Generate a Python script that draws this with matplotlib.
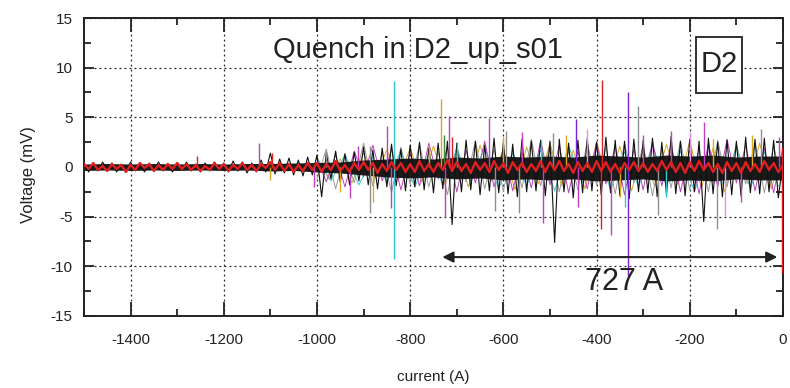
import numpy as np
import matplotlib
matplotlib.use("Agg")
import matplotlib.pyplot as plt
from matplotlib.ticker import MultipleLocator
from matplotlib.patches import Rectangle

plt.rcParams['font.family'] = ['Liberation Sans', 'DejaVu Sans']
plt.rcParams['axes.unicode_minus'] = False

# dense black core of all traces, edges every 50 A from -1500 to 0
core_start, core_step = -1500, 50
core_hi = [0.3, 0.35, 0.3, 0.35, 0.3, 0.35, 0.3, 0.35, 0.35, 0.4,
           0.45, 0.5, 0.7, 0.8, 0.9, 0.8, 1.0, 0.9, 1.1, 1.0,
           1.1, 1.0, 1.2, 1.1, 1.0, 1.2, 1.1, 1.2, 1.0, 1.1, 1.1]
core_lo = [-0.35, -0.3, -0.35, -0.3, -0.35, -0.3, -0.35, -0.3, -0.4, -0.35,
           -0.5, -0.6, -0.8, -1.0, -1.1, -1.0, -1.2, -1.1, -1.3, -1.2,
           -1.3, -1.2, -1.4, -1.3, -1.2, -1.4, -1.3, -1.4, -1.2, -1.3, -1.3]

# black trace, one value every 10 A from -1500 to 0
black_start, black_step = -1500, 10
black_v = [
    0.4, -0.5, 0.3, -0.4, 0.5, -0.3, 0.4, -0.5, 0.3, -0.4,
    0.5, -0.4, 0.3, -0.5, 0.4, -0.3, 0.5, -0.4, 0.3, -0.5,
    0.4, -0.3, 0.5, -0.4, 0.3, -0.5, 0.4, -0.4, 0.5, -0.3,
    0.4, -0.5, 0.6, -0.4, 0.5, -0.6, 0.4, -0.5, 0.7, -0.5,
    1.4, -0.7, 0.8, -0.6, 0.9, -0.8, 0.7, -0.9, 1.0, -0.8,
    1.2, -3.0, 1.4, -1.2, 1.6, -1.5, 1.3, -1.8, 1.5, -1.4,
    2.0, -1.8, 1.7, -2.2, 1.9, -2.0, 2.3, -1.9, 1.8, -2.4,
    2.2, -2.0, 2.5, -2.3, 1.9, -2.6, 2.4, -2.2, 2.6, -5.8,
    2.4, -2.5, 2.7, -2.3, 2.6, -2.8, 2.2, -2.4, 2.9, -2.6,
    2.5, -2.7, 2.3, -3.0, 2.8, -2.5, 2.6, -2.4, 2.7, -2.9,
    2.6, -7.6, 2.8, -2.5, 2.4, -3.1, 2.7, -2.6, 2.9, -2.4,
    2.5, -2.8, 3.0, -2.6, 2.7, -2.9, 2.6, -3.2, 2.8, -2.5,
    2.7, -2.6, 2.9, -3.0, 2.5, -2.8, 3.1, -2.7, 2.6, -2.9,
    2.8, -2.5, 2.6, -5.5, 2.9, -2.7, 2.5, -3.0, 2.7, -2.8,
    2.6, -2.9, 3.0, -2.6, 2.8, -2.7, 2.9, -2.5, 2.7, -3.1,
    0.5,
]

# red trace, every 10 A
red_start, red_step = -1500, 10
red_v = [
    0.3, -0.2, 0.4, -0.3, 0.1, -0.4, 0.3, -0.2, 0.2, -0.5,
    0.2, -0.3, 0.4, -0.1, 0.3, -0.4, 0.2, -0.3, 0.3, -0.2,
    0.4, -0.2, 0.3, -0.3, 0.2, -0.4, 0.1, -0.3, 0.4, -0.2,
    0.3, -0.4, 0.2, -0.2, 0.4, -0.3, 0.2, -0.4, 0.3, -0.1,
    0.5, -0.3, 0.4, -0.4, 0.3, -0.5, 0.2, -0.4, 0.4, -0.3,
    0.4, -0.5, 0.3, -0.3, 0.6, -0.4, 0.2, -0.5, 0.4, -0.3,
    0.5, -0.3, 0.4, -0.6, 0.3, -0.4, 0.5, -0.3, 0.4, -0.5,
    0.3, -0.5, 0.6, -0.4, 0.3, -0.5, 0.4, -0.3, 0.7, -0.4,
    0.5, -0.4, 0.3, -0.6, 0.5, -0.3, 0.4, -0.5, 0.6, -0.3,
    0.4, -0.6, 0.5, -0.3, 0.4, -0.5, 0.3, -0.4, 0.6, -0.5,
    0.5, -0.3, 0.6, -0.4, 0.3, -0.6, 0.5, -0.4, 0.4, -0.5,
    0.6, -0.4, 0.5, -0.5, 0.3, -0.6, 0.4, -0.3, 0.5, -0.4,
    0.4, -0.5, 0.3, -0.4, 0.6, -0.3, 0.5, -0.5, 0.4, -0.6,
    0.5, -0.4, 0.6, -0.3, 0.4, -0.5, 0.3, -0.6, 0.5, -0.4,
    0.4, -0.6, 0.5, -0.4, 0.3, -0.5, 0.6, -0.3, 0.4, -0.5,
    0.2,
]

# magenta trace, every 20 A from -1000
mag_start, mag_step = -1000, 20
mag_v = [
    0.8, -1.5, 1.2, -2.0, 1.6, -1.0, 2.2, -1.4, 1.8, -2.3,
    1.5, -1.9, 2.4, -1.2, 2.0, -2.5, 1.7, -1.6, 2.6, -2.0,
    1.9, -2.4, 1.5, -2.1, 2.7, -1.8, 2.2, -2.6, 1.6, -2.2,
    2.5, -1.7, 2.1, -2.8, 1.8, -2.3, 2.6, -1.9, 2.3, -2.5,
    1.7, -2.7, 2.4, -2.0, 2.8, -1.6, 2.2, -2.4, 1.9, -2.6, 2.0,
]

# yellow trace, every 25 A from -1000
yel_start, yel_step = -1000, 25
yel_v = [
    1.0, -1.2, 0.8, -1.6, 1.4, -1.1, 1.7, -1.3, 1.9, -1.5,
    2.1, -1.8, 1.6, -2.0, 2.2, -1.4, 1.8, -2.3, 2.0, -1.7,
    2.4, -1.9, 1.7, -2.2, 2.5, -1.6, 2.1, -2.4, 1.8, -2.0,
    2.3, -1.8, 2.6, -2.1, 1.9, -2.5, 2.2, -1.7, 2.4, -2.2, 1.8,
]

# gray trace, every 20 A from -1000
gray_start, gray_step = -1000, 20
gray_v = [
    -1.2, 1.8, -2.2, 1.4, -1.6, 2.4, -1.9, 1.5, -2.6, 2.0,
    -1.7, 2.3, -2.0, 1.6, -2.8, 2.1, -1.5, 2.6, -2.2, 1.8,
    -2.4, 1.7, -2.1, 2.8, -1.9, 2.2, -2.5, 1.6, -2.3, 2.5,
    -1.8, 2.0, -2.7, 2.4, -1.6, 2.2, -2.9, 1.9, -2.1, 2.6,
    -2.3, 1.8, -2.5, 2.7, -2.0, 2.3, -1.7, 2.5, -2.6, 2.1, -1.8,
]

# cyan trace, every 30 A from -1000
cyan_start, cyan_step = -1000, 30
cyan_v = [
    0.9, -1.4, 1.2, -1.8, 1.0, -1.5, 1.6, -2.0, 1.3, -1.7,
    1.8, -1.5, 2.0, -2.2, 1.4, -1.9, 1.7, -2.4, 2.1, -1.6,
    1.9, -2.3, 1.5, -2.0, 2.2, -1.8, 1.6, -2.5, 2.0, -1.7,
    1.8, -2.1, 1.5, -1.9,
]

# isolated spikes (current, peak voltage) per channel
spikes = {
    '#c040c0': ([-1125, -1006, -930, -913, -849, -841, -716, -726, -630, -516,
                 -369, -241, -169, -9, -560, -440, -300, -90],
                [2.45, -2.0, -3.1, 2.1, 4.1, -4.1, 5.1, -5.0, 4.9, -5.6,
                 -6.8, 3.6, 4.5, 3.0, 3.5, -4.0, 3.2, -3.5]),
    '#d8a820': ([-1100, -951, -759, -734, -466, -66, -880, -600, -350, -150],
                [-1.3, -2.5, 2.1, 6.8, 3.2, 3.2, -3.5, 3.0, -3.0, 2.8]),
    '#30c8d0': ([-835, -835, -340, -700, -250, -520],
                [8.7, -9.3, -4.0, 2.5, -3.0, 2.7]),
    '#909090': ([-887, -887, -594, -494, -311, -48, -617, -567, -268, -141, -980],
                [2.1, -4.6, 3.6, 3.4, 6.1, 3.8, -4.4, -4.6, -4.8, -6.2, 1.5]),
    '#7a20d0': ([-444, -332, -332],
                [4.8, 7.5, -11.0]),
    '#3a8a3a': ([-728], [3.2]),
    '#e890e8': ([-125, -200, -420], [-4.9, 3.5, 3.8]),
    '#e02020': ([-1258, -1096, -710, -389, -390, -3, -3],
                [1.1, 1.4, 3.05, 8.8, -6.2, 2.0, -10.7]),
}

span_from, span_to, span_level = -731, -12, -9.07
span_label = '727 A'


def xs(start, step, vals):
    return start + step * np.arange(len(vals))


fig = plt.figure(figsize=(7.9, 3.88), dpi=100)
ax = fig.add_axes([0.1063, 0.1856, 0.8848, 0.768])

for start, step, vals, c in [(yel_start, yel_step, yel_v, '#d8a820'),
                             (gray_start, gray_step, gray_v, '#9a9a9a'),
                             (cyan_start, cyan_step, cyan_v, '#40c8d0'),
                             (mag_start, mag_step, mag_v, '#c040c0')]:
    ax.plot(xs(start, step, vals), vals, color=c, lw=0.7, zorder=2)
cx = xs(core_start, core_step, core_hi)
ax.fill_between(cx, core_lo, core_hi, color='#1a1a1a', lw=0, zorder=2.5)
ax.plot(xs(black_start, black_step, black_v), black_v, color='#111111', lw=0.8, zorder=3)
for c, (sx, sy) in spikes.items():
    ax.vlines(sx, 0, sy, colors=c, lw=1.0, zorder=4)
ax.plot(xs(red_start, red_step, red_v), red_v, color='#e02020', lw=1.7, zorder=5)

ax.annotate('', xy=(span_to, span_level), xytext=(span_from, span_level),
            arrowprops=dict(arrowstyle='<|-|>', color='#222222', lw=1.5,
                            mutation_scale=16, shrinkA=0, shrinkB=0), zorder=6)
ax.text(-341, -11.6, span_label, fontsize=22, color='#222222',
        ha='center', va='center', zorder=6)
ax.text(-784, 11.0, 'Quench in D2_up_s01', fontsize=21, color='#222222',
        ha='center', va='baseline', zorder=6)
ax.add_patch(Rectangle((-186.5, 7.45), 98.5, 5.64, fc='white', ec='#222222',
                       lw=1.3, zorder=6))
ax.text(-137, 10.4, 'D2', fontsize=21, color='#222222', ha='center', va='center',
        zorder=7)

ax.set_xlim(-1500, 0)
ax.set_ylim(-15, 15)
ax.xaxis.set_major_locator(MultipleLocator(200))
ax.xaxis.set_minor_locator(MultipleLocator(100))
ax.yaxis.set_major_locator(MultipleLocator(5))
ax.yaxis.set_minor_locator(MultipleLocator(2.5))
ax.grid(True, which='major', color='#222222', linestyle=(0, (1.5, 2.5)), lw=0.9)
ax.set_axisbelow(True)

ax.tick_params(axis='both', which='both', direction='in', top=True, right=True,
               colors='#222222', labelsize=11, width=1.3)
ax.tick_params(axis='x', which='major', length=10, pad=12)
ax.tick_params(axis='x', which='minor', length=5)
ax.tick_params(axis='y', which='major', length=7, pad=8)
ax.tick_params(axis='y', which='minor', length=5)
for s in ax.spines.values():
    s.set_linewidth(1.4)
    s.set_color('#222222')

fig.text(433.5 / 790, 1 - 377 / 388, 'current (A)', fontsize=11, color='#222222',
         ha='center', va='center')
fig.text(29 / 790, 1 - 175 / 388, 'Voltage (mV)', fontsize=12, color='#222222',
         ha='center', va='center', rotation=90)

fig.savefig('out.png', dpi=100)
